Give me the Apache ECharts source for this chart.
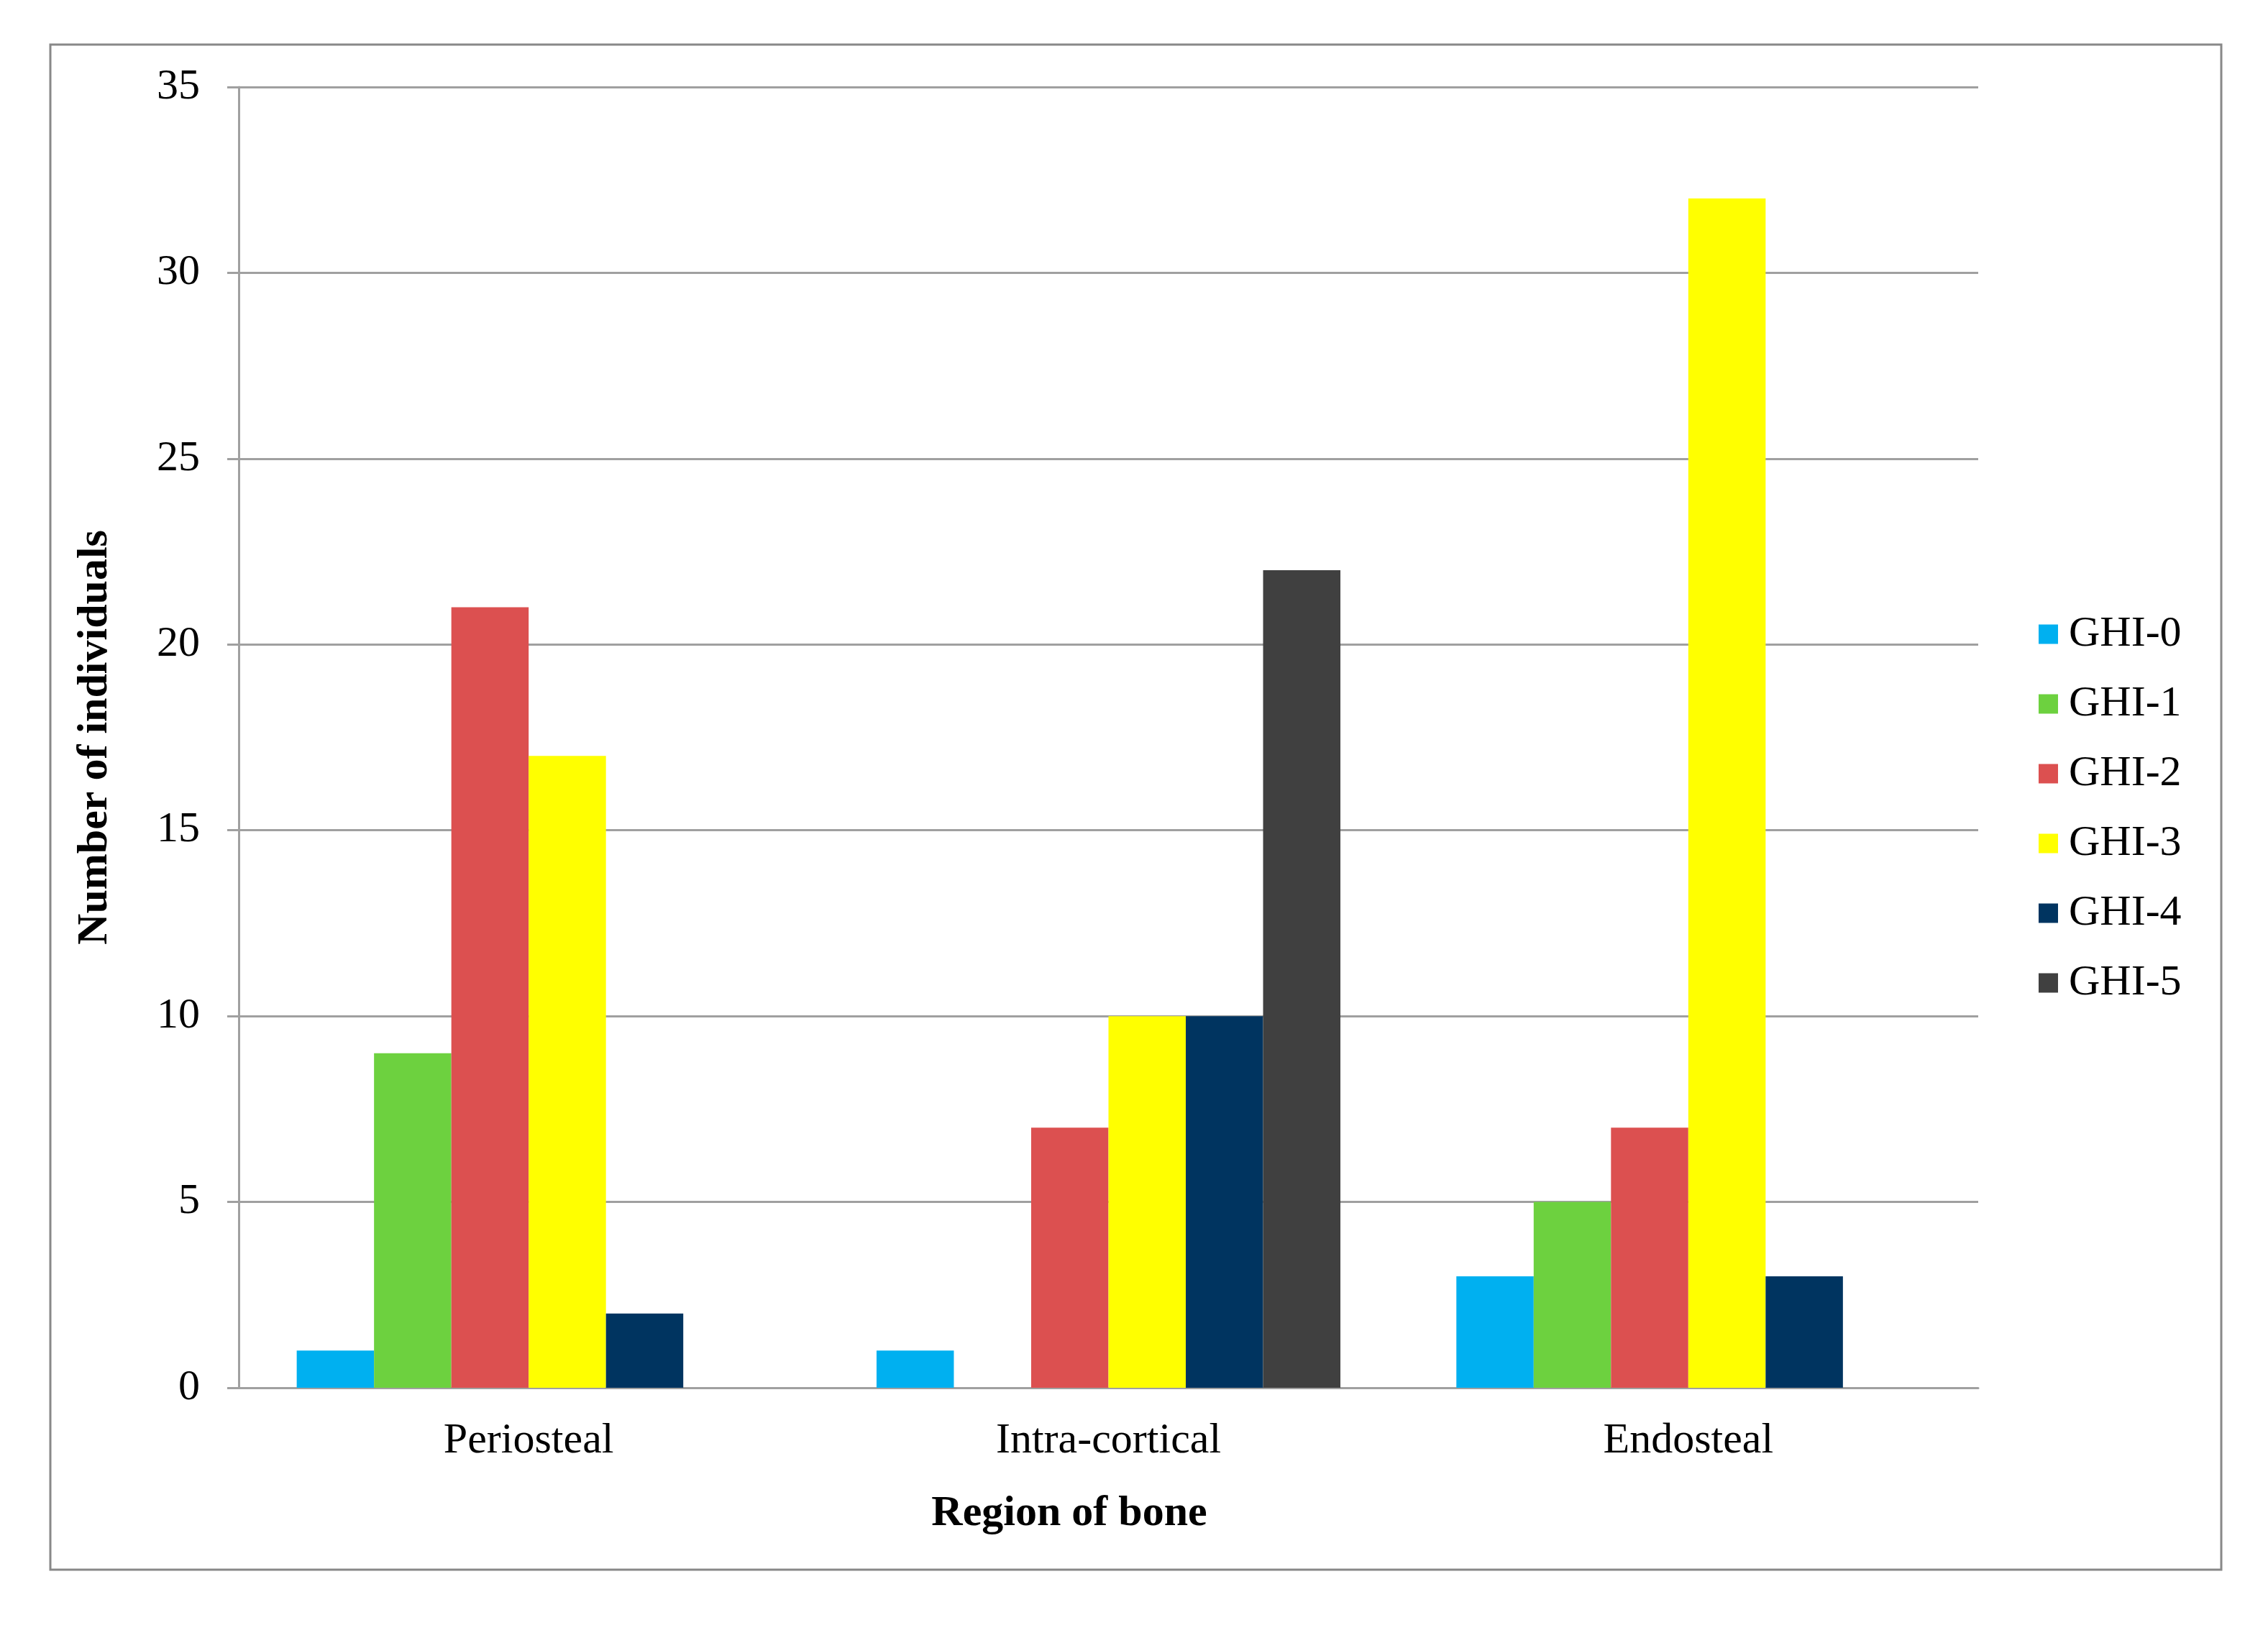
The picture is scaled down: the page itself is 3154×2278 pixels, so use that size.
<!DOCTYPE html>
<html>
<head>
<meta charset="utf-8">
<script src="https://cdn.jsdelivr.net/npm/echarts@6/dist/echarts.min.js"></script>
<style>
html,body{margin:0;padding:0;background:#fff;}
#chart{width:3154px;height:2278px;}
</style>
</head>
<body>
<div id="chart"></div>
<script>
const categories = ['Periosteal', 'Intra-cortical', 'Endosteal'];
const seriesNames = ['GHI-0', 'GHI-1', 'GHI-2', 'GHI-3', 'GHI-4', 'GHI-5'];
const ghi0 = [1, 1, 3];
const ghi1 = [9, 0, 5];
const ghi2 = [21, 7, 7];
const ghi3 = [17, 10, 32];
const ghi4 = [2, 10, 3];
const ghi5 = [0, 22, 0];
const seriesValues = [ghi0, ghi1, ghi2, ghi3, ghi4, ghi5];
const colors = ['#00B0F0', '#6DD13F', '#DC5050', '#FFFF00', '#003460', '#404040'];
const yTicks = [0, 5, 10, 15, 20, 25, 30, 35];
const xTitle = 'Region of bone';
const yTitle = 'Number of individuals';

const font = 'Liberation Serif, Times New Roman, serif';
const gray = '#A0A0A0';

const chart = echarts.init(document.getElementById('chart'));
chart.setOption({
  backgroundColor: '#fff',
  animation: false,
  textStyle: { fontFamily: font },
  graphic: [{
    type: 'rect',
    shape: { x: 70, y: 62, width: 3019, height: 2121 },
    style: { fill: 'none', stroke: '#888888', lineWidth: 3 },
    z: -1
  }, {
    type: 'text',
    x: 1487,
    y: 2105,
    style: {
      text: xTitle,
      font: 'bold 60px ' + font,
      fill: '#000',
      textAlign: 'center',
      textVerticalAlign: 'middle'
    }
  }],
  grid: { left: 332, right: 403, top: 121, bottom: 348 },
  legend: {
    orient: 'vertical',
    left: 2830,
    top: 847,
    itemWidth: 27,
    itemHeight: 27,
    itemGap: 37,
    icon: 'rect',
    data: seriesNames,
    textStyle: { fontFamily: font, fontSize: 60, color: '#000', padding: [0, 0, 0, 10] }
  },
  xAxis: {
    type: 'category',
    data: categories,
    axisLine: { lineStyle: { color: gray, width: 3 } },
    axisTick: { show: false },
    axisLabel: { fontFamily: font, fontSize: 60, color: '#000', margin: 44 }
  },
  yAxis: {
    type: 'value',
    min: yTicks[0],
    max: yTicks[yTicks.length - 1],
    interval: 5,
    name: yTitle,
    nameLocation: 'middle',
    nameGap: 170,
    nameTextStyle: { fontFamily: font, fontSize: 60, fontWeight: 'bold', color: '#000' },
    axisLine: { show: true, lineStyle: { color: gray, width: 3 } },
    axisTick: { show: true, length: 16, lineStyle: { color: gray, width: 3 } },
    splitLine: { lineStyle: { color: gray, width: 3 } },
    axisLabel: { fontFamily: font, fontSize: 60, color: '#000', margin: 54 }
  },
  series: seriesNames.map((n, i) => ({
    name: n,
    type: 'bar',
    data: seriesValues[i],
    barGap: '0%',
    barCategoryGap: '20%',
    itemStyle: { color: colors[i] }
  }))
});
</script>
</body>
</html>
